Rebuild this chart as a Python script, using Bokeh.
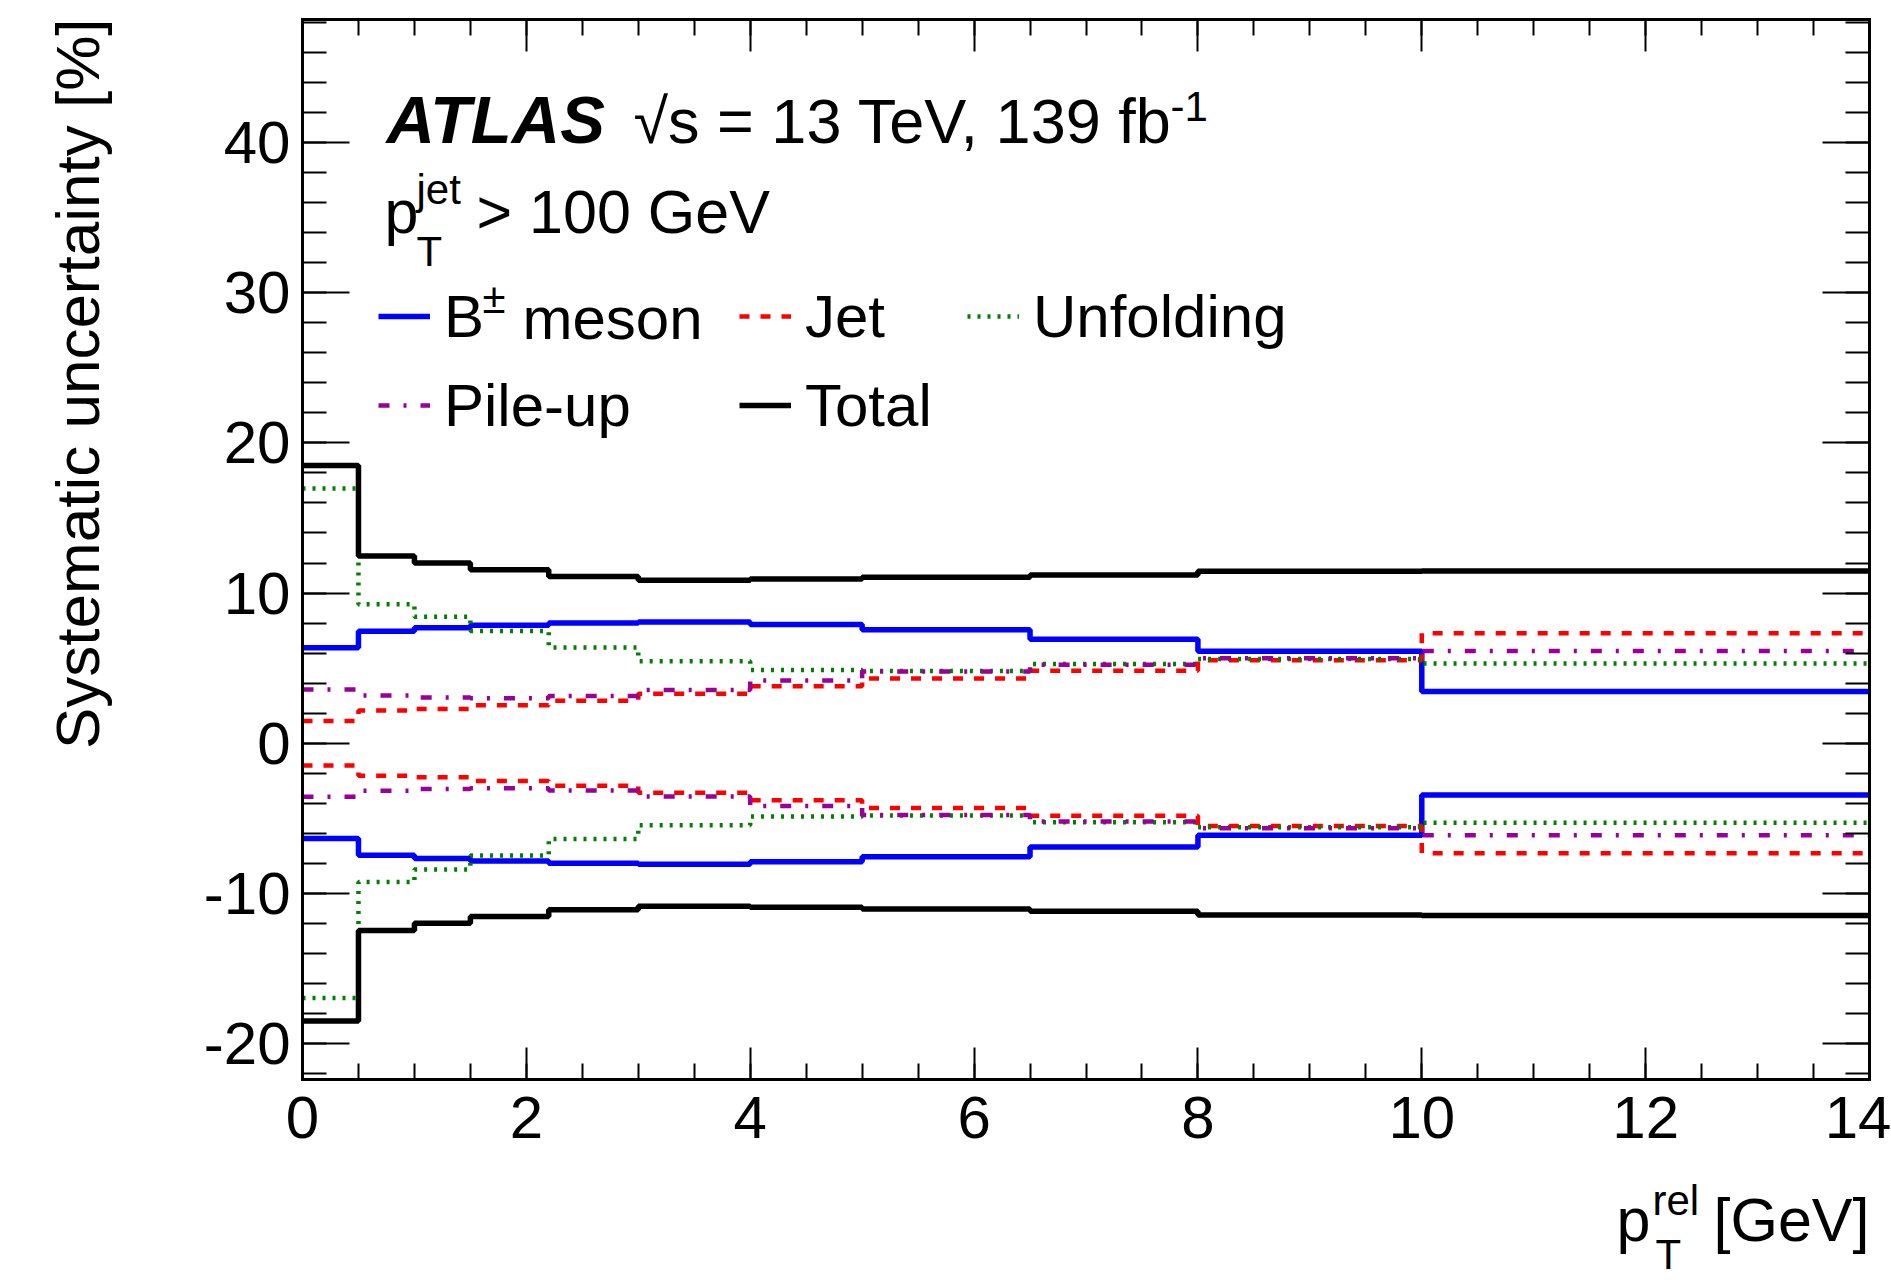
from math import pi
from bokeh.plotting import figure
from bokeh.models import Range1d, LinearAxis, FixedTicker, Label, Legend, LegendItem
from bokeh.embed import file_html
from bokeh.resources import INLINE

# ---------------- data ----------------
bin_edges = [0.0, 0.5, 1.0, 1.5, 2.2, 3.0, 4.0, 5.0, 6.5, 8.0, 10.0, 14.0]
b_meson   = [6.35, 7.46, 7.68, 7.85, 8.00, 8.07, 7.90, 7.56, 6.92, 6.13, 3.45]
jet       = [1.48, 2.17, 2.27, 2.52, 2.83, 3.30, 3.80, 4.31, 4.83, 5.52, 7.33]
unfolding = [16.97, 9.25, 8.42, 7.48, 6.38, 5.46, 4.88, 4.81, 5.27, 5.60, 5.30]
pileup    = [3.57, 3.17, 3.05, 3.00, 3.15, 3.55, 4.18, 4.78, 5.22, 5.66, 6.14]
total     = [18.50, 12.47, 12.00, 11.55, 11.10, 10.86, 10.93, 11.05, 11.20, 11.45, 11.47]

x_ticks = [0, 2, 4, 6, 8, 10, 12, 14]
x_minor = [i * 0.5 for i in range(0, 29)]
y_ticks = [-20, -10, 0, 10, 20, 30, 40]
y_minor = list(range(-22, 49, 2))
y_tick_text = {-20: "-20", -10: "-10"}

# ---------------- layout ----------------
W, H = 1891, 1282
FL, FR, FT, FB = 302, 1869, 19, 1079      # visible axes box, in pixels
X0, X1 = 0.0, 14.0
Y0, Y1 = -22.4, 48.2

FONT = "Liberation Sans"


def dx(px):
    return X0 + (px - FL) / (FR - FL) * (X1 - X0)


def dy(py):
    return Y1 - (py - FT) / (FB - FT) * (Y1 - Y0)


# The drawing frame covers the whole canvas; the axes are fixed at the box edges
p = figure(width=W, height=H,
           x_range=Range1d(dx(0), dx(W)), y_range=Range1d(dy(H), dy(0)),
           output_backend="svg", toolbar_location=None,
           x_axis_location=None, y_axis_location=None,
           min_border_left=0, min_border_right=0,
           min_border_top=0, min_border_bottom=0)
p.xgrid.visible = False
p.ygrid.visible = False
p.outline_line_color = None
p.background_fill_color = "white"
p.border_fill_color = "white"

bottom_ax = LinearAxis(fixed_location=Y0, bounds=(X0, X1))
top_ax = LinearAxis(fixed_location=Y1, bounds=(X0, X1))
left_ax = LinearAxis(fixed_location=X0, bounds=(Y0, Y1))
right_ax = LinearAxis(fixed_location=X1, bounds=(Y0, Y1))
p.add_layout(bottom_ax, "below")
p.add_layout(top_ax, "above")
p.add_layout(left_ax, "left")
p.add_layout(right_ax, "right")


def style_axis(ax, ticks, minor, tin, mtin, labels, standoff=12):
    ax.ticker = FixedTicker(ticks=ticks, minor_ticks=minor)
    ax.major_tick_in = tin
    ax.major_tick_out = 0
    ax.minor_tick_in = mtin
    ax.minor_tick_out = 0
    ax.major_tick_line_width = 2
    ax.minor_tick_line_width = 2
    ax.major_tick_line_color = "black"
    ax.minor_tick_line_color = "black"
    ax.axis_line_width = 3
    ax.axis_line_color = "black"
    ax.axis_line_cap = "square"
    if labels:
        ax.major_label_text_font = FONT
        ax.major_label_text_font_size = "60px"
        ax.major_label_text_color = "black"
        ax.major_label_standoff = standoff
    else:
        ax.major_label_text_color = None
        ax.major_label_text_font_size = "1px"
        ax.major_label_standoff = 0


style_axis(bottom_ax, x_ticks, x_minor, 32, 16, True, standoff=17)
style_axis(top_ax, x_ticks, x_minor, 32, 16, False)
style_axis(left_ax, y_ticks, y_minor, 47, 24, True, standoff=12)
style_axis(right_ax, y_ticks, y_minor, 47, 24, False)
left_ax.major_label_overrides = y_tick_text

# ---------------- histograms ----------------
series = [
    ("B meson", b_meson, "#0000ff", 5.5, "solid"),
    ("Jet", jet, "#ff0000", 4.5, "10 11"),
    ("Unfolding", unfolding, "#007f00", 4.5, "3 7"),
    ("Pile-up", pileup, "#990099", 4.5, "11 14 3 14"),
    ("Total", total, "#000000", 5.5, "solid"),
]
renderers = {}
for name, vals, col, lw, dash in series:
    up = list(vals) + [vals[-1]]
    dn = [-v for v in up]
    r = p.step(x=bin_edges, y=up, mode="after", line_color=col, line_width=lw,
               line_dash=dash)
    p.step(x=bin_edges, y=dn, mode="after", line_color=col, line_width=lw,
           line_dash=dash)
    renderers[name] = r

# ---------------- legend (one block per entry) ----------------
LEG_H = 80
legend_pos = {
    "B meson": (378, 316, "B"),
    "Jet": (739, 316, "Jet"),
    "Unfolding": (967, 316, "Unfolding"),
    "Pile-up": (378, 405, "Pile-up"),
    "Total": (739, 405, "Total"),
}
for name, (gx, gy, lab) in legend_pos.items():
    leg = Legend(items=[LegendItem(label=lab, renderers=[renderers[name]])],
                 location=(gx, H - (gy + LEG_H / 2)),
                 glyph_width=52, glyph_height=LEG_H, label_height=LEG_H,
                 label_standoff=14, padding=0, margin=0, spacing=0,
                 border_line_color=None, background_fill_alpha=0,
                 label_text_font=FONT, label_text_font_size="60px",
                 label_text_color="black")
    p.add_layout(leg, "center")

BASE_SHIFT = 0.33   # compensates the baseline offset seen in the SVG output


def add_text(px, py, text, size, style="normal", align="left", angle=0.0):
    if angle == 0.0:
        py = py - BASE_SHIFT * size
    else:
        px = px - BASE_SHIFT * size
    p.add_layout(Label(x=dx(px), y=dy(py), text=text, text_font=FONT,
                       text_font_size=f"{size}px", text_font_style=style,
                       text_align=align, text_baseline="alphabetic",
                       angle=angle, text_color="black"))


# B± superscript and "meson"
add_text(482, 312, "\u00b1", 42)
add_text(522, 338, "meson", 60)

# ATLAS label
add_text(386, 141, "ATLAS", 67, style="bold italic")
add_text(633, 141, "\u221as = 13 TeV, 139 fb", 63)
add_text(1170, 120, "-1", 42)

# p_T^jet > 100 GeV
add_text(384, 232, "p", 61)
add_text(416, 203, "jet", 42)
add_text(416, 265, "T", 42)
add_text(476, 232, "> 100 GeV", 61)

# axis titles
add_text(97, 18, "Systematic uncertainty [%]", 62, align="right", angle=pi / 2)
add_text(1616, 1240, "p", 61)
add_text(1652, 1214, "rel", 42)
add_text(1655, 1268, "T", 42)
add_text(1869, 1240, "[GeV]", 61, align="right")

open("out.html", "w").write(file_html(p, INLINE))
